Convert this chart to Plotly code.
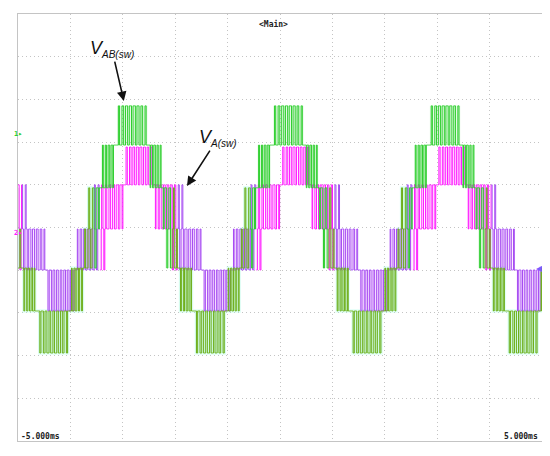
import numpy as np
import plotly.graph_objects as go

# ---------------- data read from the scope capture ----------------
# time axis: -5 ms .. 5 ms (1 ms/div); vertical axis in divisions (-5 .. 5)
x_range_ms = [-5.0, 5.0]

# level values (in divisions) for each waveform
green_levels = [-2.94, -1.955, -0.95, -0.035, 0.93, 1.93, 2.85]     # index -3 .. +3
magenta_levels = [-1.955, -0.995, -0.035, 1.0, 1.885]              # index -2 .. +2

# half-cycle centres (ms)
green_pos_peaks = [-5.81, -2.82, 0.16, 3.15]
green_neg_peaks = [-4.32, -1.33, 1.66, 4.64]
magenta_pos_peaks = [-5.68, -2.69, 0.30, 3.28]
magenta_neg_peaks = [-4.18, -1.20, 1.79, 4.78]
half_window_ms = 0.747

# positive half-cycle pattern, times relative to the centre (ms); negative half is its mirror
green_plateau_edges = [-0.63, -0.36, 0.34, 0.59]
green_plateau_levels = [1, 2, 1]
green_zone_start = [-0.86, -0.59, -0.29, 0.34, 0.59]
green_zone_end = [-0.63, -0.36, 0.29, 0.57, 0.84]
green_zone_low = [0, 1, 2, 1, 0]
green_zone_high = [1, 2, 3, 2, 1]
green_zone_duty = [
    [0.25, 0.4, 0.55],
    [0.3, 0.4, 0.5, 0.6],
    [0.3, 0.45, 0.55, 0.6, 0.6, 0.55, 0.45, 0.3],
    [0.6, 0.5, 0.4, 0.3],
    [0.55, 0.4, 0.25],
]

magenta_plateau_edges = [-0.31, 0.31]
magenta_plateau_levels = [1]
magenta_zone_start = [-0.88, -0.27, 0.31]
magenta_zone_end = [-0.31, 0.27, 0.86]
magenta_zone_low = [0, 1, 0]
magenta_zone_high = [1, 2, 1]
magenta_zone_duty = [
    [0.25, 0.3, 0.35, 0.4, 0.45, 0.5, 0.55, 0.6],
    [0.35, 0.45, 0.5, 0.55, 0.55, 0.5, 0.45, 0.35],
    [0.6, 0.55, 0.5, 0.45, 0.4, 0.35, 0.3, 0.25],
]

DT = 0.002
t = np.arange(x_range_ms[0], x_range_ms[1] + DT / 2, DT)


def build(levels, pos_peaks, neg_peaks, p_edges, p_levels, zs, ze, zh, zd):
    off = (len(levels) - 1) // 2
    idx = np.zeros(t.shape, dtype=int)
    cycles = [(1, c) for c in pos_peaks] + [(-1, c) for c in neg_peaks]
    for sgn, c in cycles:
        for a, b, lv in zip(p_edges[:-1], p_edges[1:], p_levels):
            m = (t >= c + a) & (t < c + b)
            idx[m] = sgn * lv
    for sgn, c in cycles:
        for s, e, hi, duties in zip(zs, ze, zh, zd):
            n = len(duties)
            sp = (e - s) / n
            for k, d in enumerate(duties):
                mid = c + s + (k + 0.5) * sp
                w = d * sp
                m = (t >= mid - w / 2) & (t < mid + w / 2)
                idx[m] = sgn * hi
    y = np.array(levels)[idx + off]
    neg_mask = np.zeros(t.shape, dtype=bool)
    for c in neg_peaks:
        neg_mask |= (t >= c - half_window_ms) & (t < c + half_window_ms)
    return y, neg_mask


def zone_polys(levels, pos_peaks, neg_peaks, zs, ze, zl, zh, cycles_kind):
    off = (len(levels) - 1) // 2
    xs, ys = [], []
    cycles = []
    if "pos" in cycles_kind:
        cycles += [(1, c) for c in pos_peaks]
    if "neg" in cycles_kind:
        cycles += [(-1, c) for c in neg_peaks]
    for sgn, c in cycles:
        for s, e, lo, hi in zip(zs, ze, zl, zh):
            a = max(c + s, x_range_ms[0])
            b = min(c + e, x_range_ms[1])
            if b <= a:
                continue
            y0 = levels[sgn * lo + off]
            y1 = levels[sgn * hi + off]
            xs += [a, b, b, a, a, None]
            ys += [y0, y0, y1, y1, y0, None]
    return xs, ys


g_y, g_neg = build(green_levels, green_pos_peaks, green_neg_peaks, green_plateau_edges,
                   green_plateau_levels, green_zone_start, green_zone_end,
                   green_zone_high, green_zone_duty)
m_y, m_neg = build(magenta_levels, magenta_pos_peaks, magenta_neg_peaks, magenta_plateau_edges,
                   magenta_plateau_levels, magenta_zone_start, magenta_zone_end,
                   magenta_zone_high, magenta_zone_duty)

fig = go.Figure()

# persistence glow
gx, gyy = zone_polys(green_levels, green_pos_peaks, green_neg_peaks, green_zone_start,
                     green_zone_end, green_zone_low, green_zone_high, ["pos", "neg"])
fig.add_trace(go.Scatter(x=gx, y=gyy, fill="toself", mode="none",
                         fillcolor="rgba(130,225,130,0.22)", hoverinfo="skip"))
mx, myy = zone_polys(magenta_levels, magenta_pos_peaks, magenta_neg_peaks, magenta_zone_start,
                     magenta_zone_end, magenta_zone_low, magenta_zone_high, ["neg"])
fig.add_trace(go.Scatter(x=mx, y=myy, fill="toself", mode="none",
                         fillcolor="rgba(255,185,255,0.18)", hoverinfo="skip"))
fig.add_trace(go.Scatter(x=t, y=np.where(g_neg, g_y, np.nan), mode="lines", line_shape="hv",
                         line=dict(color="rgba(170,255,235,0.35)", width=3.5), hoverinfo="skip"))

# magenta V_A(sw)
fig.add_trace(go.Scatter(x=t, y=np.where(~m_neg, m_y, np.nan), mode="lines", line_shape="hv",
                         line=dict(color="#ff1aff", width=1.0), hoverinfo="skip"))
fig.add_trace(go.Scatter(x=t, y=np.where(m_neg, m_y, np.nan), mode="lines", line_shape="hv",
                         line=dict(color="#a64cf2", width=1.0), hoverinfo="skip"))
# green V_AB(sw)
fig.add_trace(go.Scatter(x=t, y=np.where(~g_neg, g_y, np.nan), mode="lines", line_shape="hv",
                         line=dict(color="#2fcf2f", width=1.0), hoverinfo="skip"))
fig.add_trace(go.Scatter(x=t, y=np.where(g_neg, g_y, np.nan), mode="lines", line_shape="hv",
                         line=dict(color="#6fae1a", width=1.0), hoverinfo="skip"))

axis_common = dict(showticklabels=False, ticks="", zeroline=False, showgrid=True,
                   gridcolor="#c4c4c4", griddash="1px,3px", gridwidth=1,
                   showline=True, mirror=True, linecolor="#c4c4c4", linewidth=1)
fig.update_xaxes(range=x_range_ms, tick0=-5, dtick=1, **axis_common)
fig.update_yaxes(range=[-5, 5], tick0=-5, dtick=1, **axis_common)

mono = "DejaVu Sans Mono"
sub_style = "font-size:10px"
ann = [
    dict(text="<b>&lt;Main&gt;</b>", xref="paper", yref="paper", x=0.487, y=0.993,
         showarrow=False, font=dict(family=mono, size=8, color="#222")),
    dict(text="<b>-5.000ms</b>", xref="paper", yref="paper", x=0.002, y=0.01,
         xanchor="left", yanchor="middle", showarrow=False, font=dict(family=mono, size=8, color="#222")),
    dict(text="<b>5.000ms</b>", xref="paper", yref="paper", x=0.997, y=0.01,
         xanchor="right", yanchor="middle", showarrow=False, font=dict(family=mono, size=8, color="#222")),
    dict(text="<b>1▸</b>", xref="paper", yref="paper", x=-0.011, y=0.732,
         showarrow=False, font=dict(family=mono, size=7, color="#2fcf2f")),
    dict(text="<b>2▸</b>", xref="paper", yref="paper", x=-0.011, y=0.487,
         showarrow=False, font=dict(family=mono, size=7, color="#ff1aff")),
    dict(text="◀", xref="paper", yref="paper", x=1.005, y=0.405,
         showarrow=False, font=dict(family="DejaVu Sans", size=8, color="#7a5cff")),
    # labels with arrows (text sits at the arrow tail)
    dict(text=f"<i>V<sub><span style='{sub_style}'>AB(sw)</span></sub></i>",
         x=-2.98, y=2.96, xref="x", yref="y",
         ax=-12, ay=-52, showarrow=True, arrowhead=2, arrowsize=1.2, arrowwidth=1.6,
         arrowcolor="#111", font=dict(family="Liberation Sans", size=18, color="#111")),
    dict(text=f"<i>V<sub><span style='{sub_style}'>A(sw)</span></sub></i>",
         x=-1.775, y=0.97, xref="x", yref="y",
         ax=31, ay=-48, showarrow=True, arrowhead=2, arrowsize=1.2, arrowwidth=1.6,
         arrowcolor="#111", font=dict(family="Liberation Sans", size=18, color="#111")),
]

# the page body adds an 8 px offset, so the figure is sized to fit the window
fig.update_layout(
    width=542, height=448,
    margin=dict(l=10, r=8, t=6, b=15),
    paper_bgcolor="white", plot_bgcolor="white",
    showlegend=False,
    annotations=ann,
)

fig.write_html("out.html")
